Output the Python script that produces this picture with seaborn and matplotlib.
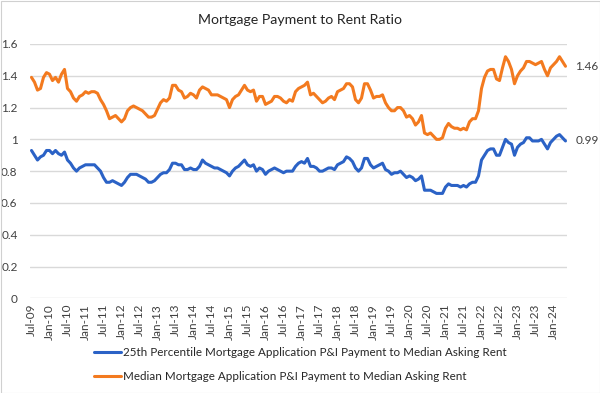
import numpy as np
import pandas as pd
import matplotlib
matplotlib.use("Agg")
import matplotlib.pyplot as plt
import seaborn as sns

title = "Mortgage Payment to Rent Ratio"
series_p25_name = "25th Percentile Mortgage Application P&I Payment to Median Asking Rent"
series_med_name = "Median Mortgage Application P&I Payment to Median Asking Rent"
start_month = "2009-07-01"

p25 = [0.93, 0.90, 0.87, 0.89, 0.90, 0.93, 0.93, 0.91, 0.93, 0.91, 0.90, 0.92,
       0.87, 0.85, 0.82, 0.80, 0.82, 0.83, 0.84, 0.84, 0.84, 0.84, 0.82, 0.80,
       0.76, 0.73, 0.73, 0.74, 0.73, 0.72, 0.71, 0.73, 0.76, 0.78, 0.78, 0.78,
       0.77, 0.76, 0.75, 0.73, 0.73, 0.74, 0.76, 0.78, 0.79, 0.79, 0.81, 0.85,
       0.85, 0.84, 0.84, 0.81, 0.81, 0.82, 0.81, 0.81, 0.83, 0.87, 0.85, 0.84,
       0.83, 0.82, 0.82, 0.81, 0.80, 0.79, 0.77, 0.80, 0.82, 0.83, 0.85, 0.87,
       0.84, 0.83, 0.84, 0.80, 0.82, 0.81, 0.78, 0.80, 0.81, 0.82, 0.81, 0.80,
       0.79, 0.80, 0.80, 0.80, 0.83, 0.85, 0.86, 0.85, 0.88, 0.83, 0.83, 0.82,
       0.80, 0.80, 0.81, 0.82, 0.82, 0.81, 0.84, 0.85, 0.86, 0.89, 0.88, 0.86,
       0.82, 0.80, 0.82, 0.88, 0.88, 0.84, 0.82, 0.83, 0.84, 0.85, 0.81, 0.80,
       0.78, 0.79, 0.79, 0.80, 0.78, 0.76, 0.77, 0.76, 0.74, 0.75, 0.77, 0.68,
       0.68, 0.68, 0.67, 0.66, 0.66, 0.66, 0.70, 0.72, 0.71, 0.71, 0.71, 0.70,
       0.71, 0.70, 0.72, 0.73, 0.73, 0.77, 0.87, 0.90, 0.93, 0.94, 0.94, 0.90,
       0.90, 0.95, 1.00, 0.98, 0.97, 0.90, 0.95, 0.97, 0.98, 1.01, 1.01, 0.99,
       0.99, 0.99, 1.00, 0.97, 0.94, 0.98, 1.00, 1.02, 1.03, 1.01, 0.99]

median = [1.39, 1.36, 1.31, 1.32, 1.39, 1.42, 1.41, 1.37, 1.39, 1.36, 1.41, 1.44,
          1.32, 1.30, 1.26, 1.24, 1.27, 1.28, 1.30, 1.29, 1.30, 1.30, 1.29, 1.25,
          1.22, 1.18, 1.13, 1.14, 1.15, 1.13, 1.11, 1.13, 1.18, 1.20, 1.21, 1.20,
          1.19, 1.18, 1.16, 1.14, 1.14, 1.15, 1.19, 1.23, 1.25, 1.24, 1.26, 1.34,
          1.34, 1.31, 1.30, 1.26, 1.27, 1.29, 1.28, 1.26, 1.31, 1.33, 1.32, 1.31,
          1.28, 1.28, 1.28, 1.27, 1.26, 1.25, 1.20, 1.25, 1.27, 1.28, 1.31, 1.34,
          1.31, 1.30, 1.31, 1.24, 1.27, 1.27, 1.22, 1.23, 1.24, 1.27, 1.27, 1.26,
          1.24, 1.23, 1.25, 1.24, 1.30, 1.32, 1.33, 1.34, 1.36, 1.28, 1.29, 1.27,
          1.25, 1.23, 1.24, 1.26, 1.27, 1.25, 1.30, 1.31, 1.32, 1.35, 1.35, 1.33,
          1.25, 1.23, 1.26, 1.35, 1.35, 1.31, 1.26, 1.27, 1.27, 1.28, 1.23, 1.20,
          1.18, 1.18, 1.20, 1.20, 1.18, 1.14, 1.15, 1.13, 1.09, 1.11, 1.15, 1.04,
          1.03, 1.04, 1.02, 1.00, 1.00, 1.01, 1.07, 1.10, 1.08, 1.07, 1.07, 1.06,
          1.07, 1.06, 1.11, 1.13, 1.13, 1.18, 1.32, 1.39, 1.43, 1.44, 1.44, 1.38,
          1.37, 1.45, 1.52, 1.49, 1.44, 1.35, 1.40, 1.43, 1.45, 1.49, 1.49, 1.48,
          1.47, 1.48, 1.49, 1.44, 1.40, 1.45, 1.47, 1.49, 1.52, 1.49, 1.46]

y_ticks = [0, 0.2, 0.4, 0.6, 0.8, 1.0, 1.2, 1.4, 1.6]
y_tick_labels = ["0", "0.2", "0.4", "0.6", "0.8", "1", "1.2", "1.4", "1.6"]

months = pd.date_range(start_month, periods=len(p25), freq="MS")
df = pd.DataFrame({
    "idx": np.arange(len(p25)),
    series_p25_name: p25,
    series_med_name: median,
})
long = df.melt(id_vars="idx", var_name="series", value_name="ratio")

sns.set_theme(style="white")
plt.rcParams["font.family"] = ["Lato", "DejaVu Sans"]

blue = "#2B62C6"
orange = "#F37A1F"

fig = plt.figure(figsize=(6.0, 3.93), dpi=100)
ax = fig.add_axes([30 / 600, 1 - 298.3 / 393, 537 / 600, 254.3 / 393])

sns.lineplot(data=long, x="idx", y="ratio", hue="series",
             palette=[blue, orange], linewidth=2.2, ax=ax, legend=True)

ax.set_xlim(-0.5, len(p25) - 0.5)
ax.set_ylim(0, 1.6)
ax.set_yticks(y_ticks)
ax.set_yticklabels(y_tick_labels)
tick_pos = list(range(0, len(p25), 6))
ax.set_xticks(tick_pos)
ax.set_xticklabels([months[i].strftime("%b-%y") for i in tick_pos], rotation=90)
ax.tick_params(axis="both", length=0, labelsize=8.5, colors="#404040")
ax.tick_params(axis="y", pad=9)
ax.tick_params(axis="x", pad=4)
ax.set_xlabel("")
ax.set_ylabel("")
ax.grid(axis="y", color="#D9D9D9", linewidth=1.0)
ax.grid(axis="x", visible=False)
for s in ax.spines.values():
    s.set_visible(False)

# end labels
last = len(p25) - 1
ax.annotate(f"{median[-1]:.2f}", xy=(last, median[-1]), xytext=(7, 0),
            textcoords="offset points", va="center", ha="left",
            fontsize=8.5, color="#404040", annotation_clip=False)
ax.annotate(f"{p25[-1]:.2f}", xy=(last, p25[-1]), xytext=(7, 0),
            textcoords="offset points", va="center", ha="left",
            fontsize=8.5, color="#404040", annotation_clip=False)

handles, labels = ax.get_legend_handles_labels()
ax.legend_.remove()
fig.legend(handles, labels, loc="upper left", bbox_to_anchor=(94 / 600, 1 - 347 / 393),
           frameon=False, fontsize=8.4, handlelength=2.3, handletextpad=0.2,
           labelspacing=1.1, borderpad=0, borderaxespad=0, labelcolor="#262626")

fig.text(0.5, 1 - 20 / 393, title, ha="center", va="center", fontsize=10.2,
         color="#262626")

border = plt.Rectangle((0.5 / 600, 0.5 / 393), 599 / 600, 392 / 393,
                       transform=fig.transFigure, fill=False,
                       edgecolor="#D0D0D0", linewidth=0.8)
fig.patches.append(border)

fig.savefig("out.png", dpi=100)
